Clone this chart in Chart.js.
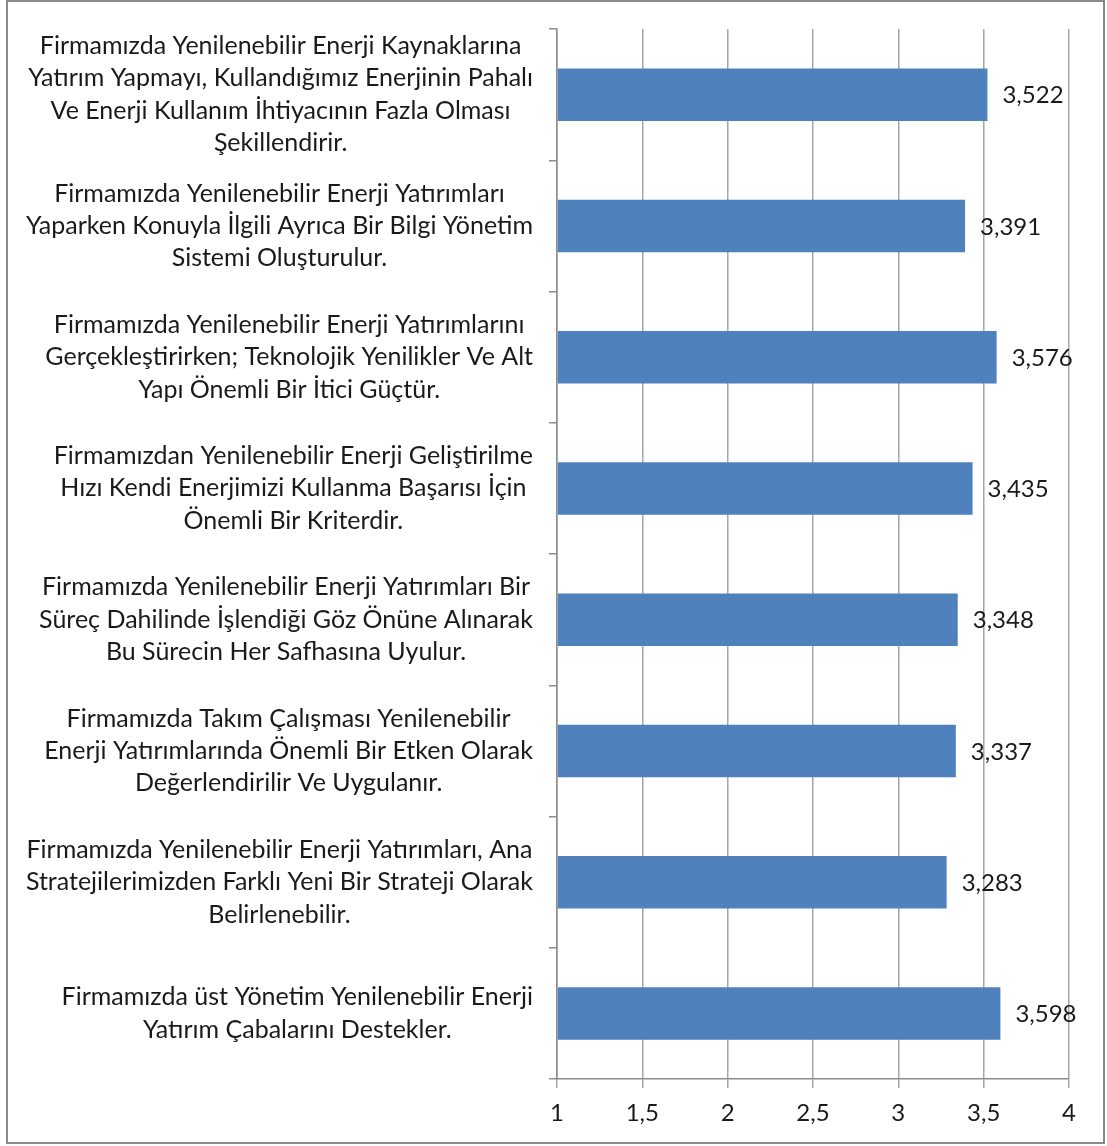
<!DOCTYPE html>
<html>
<head>
<meta charset="utf-8">
<script src="https://cdn.jsdelivr.net/npm/chart.js@4/dist/chart.umd.min.js"></script>
<style>
    html, body { margin: 0; padding: 0; background: #fff; }
    .wrap  { position: relative; width: 1107px; height: 1146px; }
    .frame { position: absolute; left: 6px; top: 0; width: 1099px; height: 1144px;
             border: 2px solid #8a8a8a; box-sizing: border-box; pointer-events: none; }
    canvas { position: absolute; left: 0; top: 0; }
</style>
</head>
<body>
<div class="wrap">
    <canvas id="chart" width="1107" height="1146"></canvas>
    <div class="frame"></div>
</div>
<script>
// ── Data ──
const categories = [
    ['Firmamızda Yenilenebilir Enerji Kaynaklarına', 'Yatırım Yapmayı, Kullandığımız Enerjinin Pahalı', 'Ve Enerji Kullanım İhtiyacının Fazla Olması', 'Şekillendirir.'],
    ['Firmamızda Yenilenebilir Enerji Yatırımları', 'Yaparken Konuyla İlgili Ayrıca Bir Bilgi Yönetim', 'Sistemi Oluşturulur.'],
    ['Firmamızda Yenilenebilir Enerji Yatırımlarını', 'Gerçekleştirirken; Teknolojik Yenilikler Ve Alt', 'Yapı Önemli Bir İtici Güçtür.'],
    ['Firmamızdan Yenilenebilir Enerji Geliştirilme', 'Hızı Kendi Enerjimizi Kullanma Başarısı İçin', 'Önemli Bir Kriterdir.'],
    ['Firmamızda Yenilenebilir Enerji Yatırımları Bir', 'Süreç Dahilinde İşlendiği Göz Önüne Alınarak', 'Bu Sürecin Her Safhasına Uyulur.'],
    ['Firmamızda Takım Çalışması Yenilenebilir', 'Enerji Yatırımlarında Önemli Bir Etken Olarak', 'Değerlendirilir Ve Uygulanır.'],
    ['Firmamızda Yenilenebilir Enerji Yatırımları, Ana', 'Stratejilerimizden Farklı Yeni Bir Strateji Olarak', 'Belirlenebilir.'],
    ['Firmamızda üst Yönetim Yenilenebilir Enerji', 'Yatırım Çabalarını Destekler.'],
];
const values = [3.522, 3.391, 3.576, 3.435, 3.348, 3.337, 3.283, 3.598];

const xMin  = 1;
const xMax  = 4;
const xStep = 0.5;

const FONT = 'Lato, "Open Sans", sans-serif';
const fmt  = v => String(v).replace('.', ',');

// ── Value labels at bar ends ──
const valueLabels = {
    id: 'valueLabels',
    afterDatasetsDraw(chart) {
        const { ctx } = chart;
        const meta = chart.getDatasetMeta(0);
        ctx.save();
        ctx.font = '24px ' + FONT;
        ctx.fillStyle = '#1a1a1a';
        ctx.textAlign = 'left';
        ctx.textBaseline = 'middle';
        meta.data.forEach((bar, i) => {
            ctx.fillText(fmt(values[i]), bar.x + 15, bar.y + 1);
        });
        ctx.restore();
    },
};

// ── Category labels: each block right-aligned to the axis, lines centred in the block ──
const categoryLabels = {
    id: 'categoryLabels',
    afterDraw(chart) {
        const { ctx } = chart;
        const y = chart.scales.y;
        const lineH = 32.4;
        ctx.save();
        ctx.font = '25px ' + FONT;
        ctx.fillStyle = '#1a1a1a';
        ctx.textAlign = 'center';
        ctx.textBaseline = 'middle';
        categories.forEach((lines, i) => {
            const w  = Math.max(...lines.map(l => ctx.measureText(l).width));
            const cx = y.right - 24 - w / 2;
            const cy = y.getPixelForTick(i);
            lines.forEach((l, j) => {
                ctx.fillText(l, cx, cy + (j - (lines.length - 1) / 2) * lineH);
            });
        });
        ctx.restore();
    },
};

new Chart(document.getElementById('chart'), {
    type: 'bar',
    data: {
        labels: categories,
        datasets: [{
            data: values,
            backgroundColor: '#4f81bd',
            borderWidth: 0,
            barPercentage: 0.4,
            categoryPercentage: 1,
            base: xMin,
        }],
    },
    options: {
        indexAxis: 'y',
        responsive: false,
        animation: false,
        layout: { padding: { top: 29, right: 38, left: 0, bottom: 0 } },
        plugins: { legend: { display: false }, tooltip: { enabled: false } },
        scales: {
            x: {
                min: xMin,
                max: xMax,
                ticks: {
                    stepSize: xStep,
                    color: '#1a1a1a',
                    font: { family: FONT, size: 24 },
                    padding: 11,
                    callback: v => fmt(v),
                },
                grid: { color: '#a6a6a6', lineWidth: 1.5, tickLength: 9 },
                border: { color: '#8c8c8c', width: 1.5 },
                afterFit: s => { s.height = 67; s.paddingLeft = 0; s.paddingRight = 0; },
            },
            y: {
                ticks: { autoSkip: false, display: false },
                grid: { offset: true, drawOnChartArea: false, drawTicks: true, tickLength: 8, color: '#8c8c8c', lineWidth: 1.5 },
                border: { color: '#8c8c8c', width: 1.5 },
                afterFit: s => { s.width = 557; s.paddingTop = 0; s.paddingBottom = 0; },
            },
        },
    },
    plugins: [valueLabels, categoryLabels],
});
</script>
</body>
</html>
